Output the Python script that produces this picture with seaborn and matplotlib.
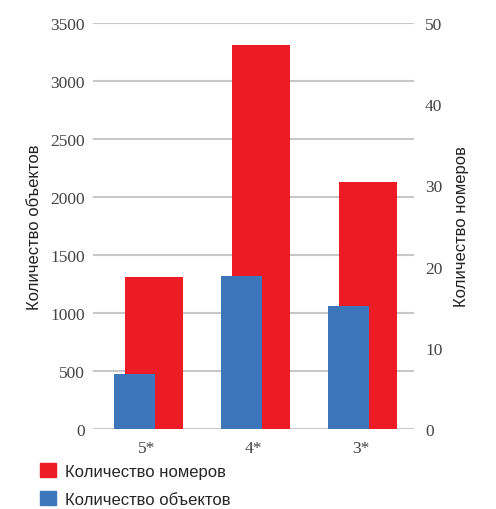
import matplotlib
matplotlib.use("Agg")
import matplotlib.pyplot as plt
import seaborn as sns
import pandas as pd
from matplotlib.patches import Patch

# data
categories = ["5*", "4*", "3*"]
rooms = [1310, 3310, 2130]      # red, left axis
objects = [6.8, 18.8, 15.1]     # blue, right axis

RED = "#ed1c24"
BLUE = "#3d76bb"
GRID = "#c8c8c8"

sns.set_theme(style="white")
plt.rcParams["font.family"] = ["Liberation Sans", "DejaVu Sans"]

df = pd.DataFrame({"cat": categories, "rooms": rooms, "objects": objects})

fig = plt.figure(figsize=(4.96, 5.10), dpi=100)
ax = fig.add_axes([0.1875, 0.157, 0.647, 0.796])
ax2 = ax.twinx()

sns.barplot(data=df, x="cat", y="rooms", color=RED, saturation=1, width=0.54,
            linewidth=0, ax=ax, zorder=2)
sns.barplot(data=df, x="cat", y="objects", color=BLUE, saturation=1, width=0.38,
            linewidth=0, ax=ax2, zorder=3)

# shift the two series sideways so they overlap like in the reference
for p in ax.patches:
    p.set_x(p.get_x() + 0.07)
for p in ax2.patches:
    p.set_x(p.get_x() - 0.11)

ax.set_xlim(-0.5, 2.5)
ax.set_ylim(0, 3500)
ax.set_yticks(range(0, 3501, 500))
ax2.set_ylim(0, 50)
ax2.set_yticks(range(0, 51, 10))

ax.yaxis.grid(True, color=GRID, linewidth=1.5, zorder=0)
ax.set_axisbelow(True)
for a in (ax, ax2):
    for s in a.spines.values():
        s.set_visible(False)
    a.tick_params(length=0)

serif = ["Liberation Serif", "DejaVu Serif"]
for lab in ax.get_yticklabels() + ax2.get_yticklabels() + ax.get_xticklabels():
    lab.set_family(serif)
    lab.set_fontsize(12.5)
    lab.set_color("#444444")
ax.tick_params(axis="y", pad=6)
ax2.tick_params(axis="y", pad=8)
ax.tick_params(axis="x", pad=8)

ax.set_xlabel("")
ax.set_ylabel("Количество объектов", fontsize=12, color="#222222", labelpad=6)
ax2.set_ylabel("Количество номеров", fontsize=12, color="#222222", labelpad=8)

handles = [Patch(color=RED, label="Количество номеров"),
           Patch(color=BLUE, label="Количество объектов")]
fig.legend(handles=handles, loc="upper left", bbox_to_anchor=(0.08, 0.090),
           frameon=False, fontsize=12, handlelength=1.0, handleheight=0.9,
           handletextpad=0.5, labelspacing=0.75, borderaxespad=0, borderpad=0)

fig.savefig("out.png", dpi=100)
